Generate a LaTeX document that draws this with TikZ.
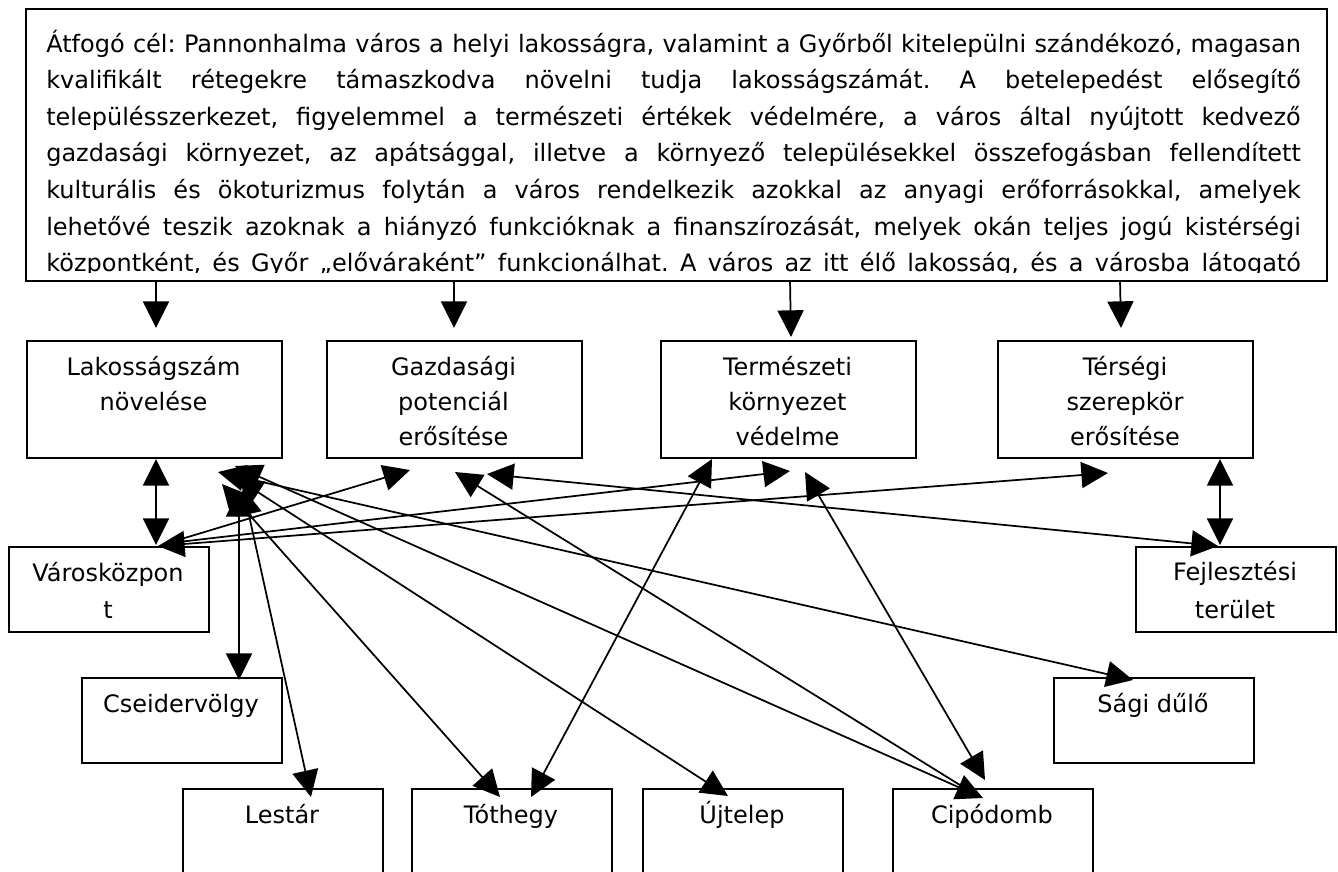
\documentclass[tikz,border=0pt]{standalone}
\usepackage{fontspec}
\setmainfont{DejaVu Sans}
\usetikzlibrary{arrows.meta}
\frenchspacing
\begin{document}
\begin{tikzpicture}[x=0.75pt,y=-0.75pt,
  box/.style={draw, line width=1.6pt, inner sep=0pt, anchor=north west},
  lbl/.style={anchor=base, inner sep=0pt, font=\fontsize{18pt}{22pt}\selectfont},
  para/.style={anchor=base west, inner sep=0pt, font=\fontsize{18pt}{22pt}\selectfont\frenchspacing},
  arr/.style={line width=1.3pt, -{Triangle[length=20pt,width=19.5pt]}},
  darr/.style={line width=1.3pt, {Triangle[length=20pt,width=19.5pt]}-{Triangle[length=20pt,width=19.5pt]}},
]
\useasboundingbox (0,0) rectangle (1338,871);
\clip (0,0) rectangle (1338,871);

% ---------- boxes ----------
\node[box, minimum width=975.75pt, minimum height=204pt] (goal) at (25,8) {};
\node[box, minimum width=191.25pt, minimum height=87.75pt] (lak) at (26,340) {};
\node[box, minimum width=191.25pt, minimum height=87.75pt] (gaz) at (326,340) {};
\node[box, minimum width=191.25pt, minimum height=87.75pt] (ter) at (660,340) {};
\node[box, minimum width=191.25pt, minimum height=87.75pt] (trs) at (997,340) {};
\node[box, minimum width=150pt, minimum height=63.75pt] (vk) at (8,546) {};
\node[box, minimum width=150pt, minimum height=63.75pt] (fej) at (1135,546) {};
\node[box, minimum width=150pt, minimum height=63.75pt] (cse) at (81,677) {};
\node[box, minimum width=150pt, minimum height=63.75pt] (sag) at (1053,677) {};
\node[box, minimum width=150pt, minimum height=75pt] (les) at (182,788) {};
\node[box, minimum width=150pt, minimum height=75pt] (tot) at (411,788) {};
\node[box, minimum width=150pt, minimum height=75pt] (ujt) at (642,788) {};
\node[box, minimum width=150pt, minimum height=75pt] (cip) at (892,788) {};

% ---------- goal text ----------
\begin{scope}
\clip (0,0) rectangle (1338,272);
\node[para] (g1) at (46,52) {\makebox[941pt][s]{Átfogó cél: Pannonhalma város a helyi lakosságra, valamint a Győrből kitelepülni szándékozó, magasan}};
\node[para] (g2) at (46,88.6) {\makebox[941pt][s]{kvalifikált rétegekre támaszkodva növelni tudja lakosságszámát. A betelepedést elősegítő}};
\node[para] (g3) at (46,125.2) {\makebox[941pt][s]{településszerkezet, figyelemmel a természeti értékek védelmére, a város által nyújtott kedvező}};
\node[para] (g4) at (46,161.8) {\makebox[941pt][s]{gazdasági környezet, az apátsággal, illetve a környező településekkel összefogásban fellendített}};
\node[para] (g5) at (46,198.4) {\makebox[941pt][s]{kulturális és ökoturizmus folytán a város rendelkezik azokkal az anyagi erőforrásokkal, amelyek}};
\node[para] (g6) at (46,235) {\makebox[941pt][s]{lehetővé teszik azoknak a hiányzó funkcióknak a finanszírozását, melyek okán teljes jogú kistérségi}};
\node[para] (g7) at (46,271.6) {\makebox[941pt][s]{központként, és Győr „előváraként” funkcionálhat. A város az itt élő lakosság, és a városba látogató}};
\end{scope}

% ---------- level 1 text ----------
\begin{scope}
\clip (0,0) rectangle (1338,446);
\node[lbl] (lak1) at (153.5,375) {Lakosságszám};
\node[lbl] (lak2) at (153.5,410) {növelése};
\node[lbl] (gaz1) at (453.5,375) {Gazdasági};
\node[lbl] (gaz2) at (453.5,410) {potenciál};
\node[lbl] (gaz3) at (453.5,445) {erősítése};
\node[lbl] (ter1) at (787.5,375) {Természeti};
\node[lbl] (ter2) at (787.5,410) {környezet};
\node[lbl] (ter3) at (787.5,445) {védelme};
\node[lbl] (trs1) at (1125,375) {Térségi};
\node[lbl] (trs2) at (1125,410) {szerepkör};
\node[lbl] (trs3) at (1125,445) {erősítése};
\end{scope}

% ---------- other text ----------
\node[lbl] (vk1) at (108,581) {Városközpon};
\node[lbl] (vk2) at (108,618) {t};
\node[lbl] (fej1) at (1235,580) {Fejlesztési};
\node[lbl] (fej2) at (1235,618) {terület};
\node[lbl] (cse1) at (181,712) {Cseidervölgy};
\node[lbl] (sag1) at (1153,712) {Sági dűlő};
\node[lbl] (les1) at (282,823) {Lestár};
\node[lbl] (tot1) at (511,823) {Tóthegy};
\node[lbl] (ujt1) at (742,823) {Újtelep};
\node[lbl] (cip1) at (992,823) {Cipódomb};

% ---------- connector end points ----------
\coordinate (t1s) at (156,280);  \coordinate (t1e) at (156,328);
\coordinate (t2s) at (454,280);  \coordinate (t2e) at (454,328);
\coordinate (t3s) at (790,280);  \coordinate (t3e) at (791,337);
\coordinate (t4s) at (1120,280); \coordinate (t4e) at (1121,328);

\coordinate (lakB) at (156,459);   \coordinate (vkT) at (156,545);
\coordinate (trsB) at (1220,459);  \coordinate (fejT) at (1220,545);
\coordinate (gazF) at (487,474);   \coordinate (fejG) at (1218,546);
\coordinate (terT) at (712,459);   \coordinate (totT) at (531,797);
\coordinate (terC) at (805,472);   \coordinate (cipT) at (985,780);
\coordinate (vkS) at (158,546);    \coordinate (trsV) at (1108,473);
\coordinate (vkG) at (178,540);    \coordinate (gazV) at (410,470);
\coordinate (vkN) at (170,543);    \coordinate (terV) at (790,471);
\coordinate (cipG) at (968,790);   \coordinate (gazC) at (455,472);

\coordinate (lakS) at (218,472);   \coordinate (sagL) at (1133,680);
\coordinate (lakC) at (235,466);   \coordinate (cipL) at (983,798);
\coordinate (lakU) at (236,478);   \coordinate (ujtL) at (728,796);
\coordinate (lakT) at (222,484);   \coordinate (totL) at (500,797);
\coordinate (lakL) at (243,488);   \coordinate (lesL) at (311,797);
\coordinate (lakV) at (239,490);   \coordinate (cseL) at (239,680);

% ---------- connectors ----------
\draw[arr] (t1s) -- (t1e);
\draw[arr] (t2s) -- (t2e);
\draw[arr] (t3s) -- (t3e);
\draw[arr] (t4s) -- (t4e);

\draw[darr] (lakB) -- (vkT);
\draw[darr] (trsB) -- (fejT);
\draw[darr] (gazF) -- (fejG);
\draw[darr] (terT) -- (totT);
\draw[darr] (terC) -- (cipT);
\draw[darr] (vkS) -- (trsV);
\draw[arr] (vkG) -- (gazV);
\draw[arr] (vkN) -- (terV);
\draw[arr] (cipG) -- (gazC);

\draw[darr] (lakS) -- (sagL);
\draw[darr] (lakC) -- (cipL);
\draw[darr] (lakU) -- (ujtL);
\draw[darr] (lakT) -- (totL);
\draw[darr] (lakL) -- (lesL);
\draw[darr] (lakV) -- (cseL);
\end{tikzpicture}
\end{document}
